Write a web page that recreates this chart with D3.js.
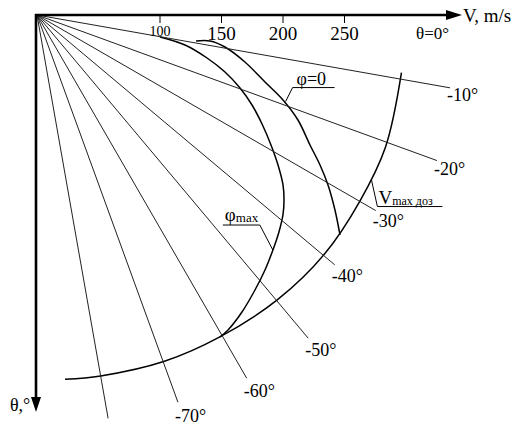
<!DOCTYPE html>
<html>
<head>
<meta charset="utf-8">
<script src="https://cdn.jsdelivr.net/npm/d3@7/dist/d3.min.js"></script>
<style>
  html, body { margin: 0; padding: 0; background: #fff; }
  svg { display: block; }
  text { font-family: "Liberation Serif", "Times New Roman", serif; fill: #000; }
</style>
</head>
<body>
<svg id="chart" width="522" height="425"></svg>
<script>
// Flight-path angle rays (deg, below horizon) and their labels
const rayAngles = [-10, -20, -30, -40, -50, -60, -70, -80];
const rayLabels = ["-10°", "-20°", "-30°", "-40°", "-50°", "-60°", "-70°", ""];
const rayReach  = [341, 346, 318, 316, 343, 341, 335, 333];   // m/s along each ray

// Speed scale ticks along the θ = 0 axis
const speedTicks = [100, 150, 200, 250];

// Boundary curves in polar form: angle θ (deg) and speed V (m/s)
const phiZeroTheta = [-9.29, -8.55, -9.66, -12.73, -16.38, -19.06, -21.92, -25.46, -27.92, -30.29, -33.2, -35.98];
const phiZeroV     = [131, 142.2, 155, 173.3, 193.2, 211.6, 228.7, 245.8, 260.4, 274, 289.5, 304.4];

const phiMaxTheta = [-10.14, -11.46, -14.19, -16.87, -19.78, -22.71, -25.85, -29.05, -31.9, -34.64,
                     -36.83, -39.11, -41.88, -44.88, -48.2, -51.6, -55.39, -58.77, -60.4];
const phiMaxV     = [101.6, 122.8, 142.6, 159.7, 175.4, 189.5, 203.3, 217.6, 230.8, 243.1,
                     250.9, 257.7, 264.2, 270.7, 278.1, 285.3, 293.4, 299.5, 301.1];

const vMaxTheta = [-9, -20.7, -30, -39.8, -49.8, -60.4, -69.8, -80, -85.6];
const vMaxV     = [300, 303, 303, 304, 303, 301, 300, 298, 297];

const svg = d3.select("#chart");
const ox = 37, oy = 15;
const r = d3.scaleLinear().domain([0, 300]).range([0, 369]);
const rad = d => d * Math.PI / 180;

// polar (θ, V) -> screen point
const pt = (theta, v) => [ox + r(v) * Math.cos(rad(theta)), oy - r(v) * Math.sin(rad(theta))];

const g = svg.append("g").attr("transform", `translate(${ox},${oy})`);

// radial line: d3 angle measured clockwise from 12 o'clock
const radial = d3.lineRadial()
  .angle(d => rad(90 - d.theta))
  .radius(d => r(d.v))
  .curve(d3.curveCatmullRom.alpha(0.5));

// rays
rayAngles.forEach((a, i) => {
  const [x2, y2] = pt(a, rayReach[i]);
  svg.append("line")
    .attr("x1", ox).attr("y1", oy).attr("x2", x2).attr("y2", y2)
    .attr("stroke", "#222").attr("stroke-width", 1);
  if (rayLabels[i]) {
    svg.append("text")
      .attr("x", x2 - 3)
      .attr("y", y2 + 12 + 8 * Math.sin(rad(-a)))
      .attr("font-size", 18)
      .text(rayLabels[i]);
  }
});

// curves
const series = [
  [phiZeroTheta, phiZeroV],
  [phiMaxTheta, phiMaxV],
  [vMaxTheta, vMaxV]
];
series.forEach(([th, vs]) => {
  const data = th.map((t, i) => ({ theta: t, v: vs[i] }));
  g.append("path").datum(data)
    .attr("d", radial)
    .attr("fill", "none").attr("stroke", "#000").attr("stroke-width", 1.5);
});

// axes
const xEnd = 446, yEnd = 397;
svg.append("line").attr("x1", ox - 2).attr("y1", oy).attr("x2", xEnd).attr("y2", oy)
  .attr("stroke", "#000").attr("stroke-width", 2.6);
svg.append("path").attr("d", `M${xEnd},${oy - 5}L${xEnd + 16},${oy}L${xEnd},${oy + 5}Z`).attr("fill", "#000");
svg.append("line").attr("x1", ox - 1).attr("y1", oy - 1).attr("x2", ox - 1).attr("y2", yEnd)
  .attr("stroke", "#000").attr("stroke-width", 2.6);
svg.append("path").attr("d", `M${ox - 6},${yEnd}L${ox - 1},${yEnd + 15}L${ox + 4},${yEnd}Z`).attr("fill", "#000");

// speed ticks
speedTicks.forEach(v => {
  const x = ox + r(v);
  svg.append("line").attr("x1", x).attr("y1", oy).attr("x2", x).attr("y2", oy + 8)
    .attr("stroke", "#000").attr("stroke-width", 1);
  svg.append("text").attr("x", x).attr("y", v === 100 ? 36 : 40)
    .attr("text-anchor", "middle").attr("font-size", v === 100 ? 14 : 19)
    .text(v);
});

svg.append("text").attr("x", 416).attr("y", 39).attr("font-size", 17).text("θ=0°");
svg.append("text").attr("x", 463).attr("y", 22).attr("font-size", 19).text("V, m/s");
svg.append("text").attr("x", 10).attr("y", 411).attr("font-size", 18).text("θ,°");

// annotation: φ=0
{
  const [ax, ay] = pt(-19.2, 214);
  const ux = ax + 7, uy = ay - 14;
  svg.append("path").attr("d", `M${ax},${ay}L${ux},${uy}L${ux + 42},${uy}`)
    .attr("fill", "none").attr("stroke", "#000").attr("stroke-width", 1);
  svg.append("text").attr("x", ux + 4).attr("y", uy - 3).attr("font-size", 18).text("φ=0");
}

// annotation: φmax
{
  const [ax, ay] = pt(-44.9, 270.7);
  const ux = ax - 13, uy = ay - 25;
  svg.append("path").attr("d", `M${ax},${ay}L${ux},${uy}L${ux - 37},${uy}`)
    .attr("fill", "none").attr("stroke", "#000").attr("stroke-width", 1);
  const t = svg.append("text").attr("x", ux - 35).attr("y", uy - 4).attr("font-size", 19);
  t.append("tspan").text("φ");
  t.append("tspan").attr("font-size", 13).attr("dy", 1).text("max");
}

// annotation: Vmax доз
{
  const [ax, ay] = pt(-26.2, 303);
  const ux = ax + 6, uy = ay + 27;
  svg.append("path").attr("d", `M${ax},${ay}L${ux},${uy}L${ux + 65},${uy}`)
    .attr("fill", "none").attr("stroke", "#000").attr("stroke-width", 1);
  const t = svg.append("text").attr("x", ux + 1).attr("y", uy - 3).attr("font-size", 19);
  t.append("tspan").text("V");
  t.append("tspan").attr("font-size", 12).attr("dy", 1).text("max доз");
}
</script>
</body>
</html>
